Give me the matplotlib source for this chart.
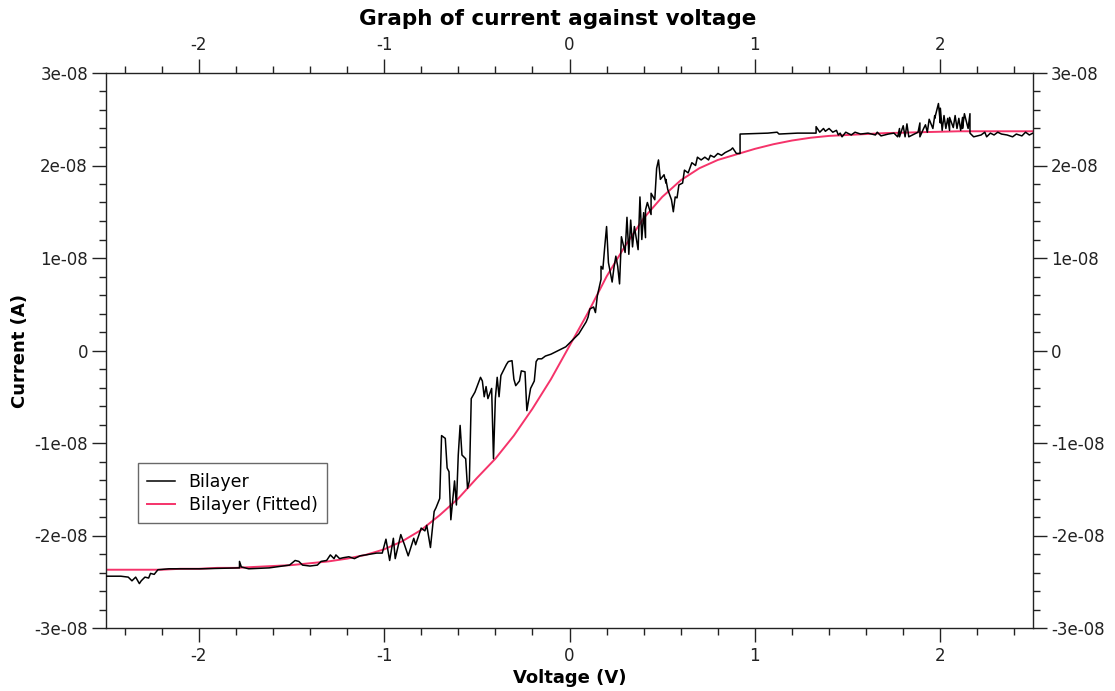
import matplotlib
matplotlib.use("Agg")
import matplotlib.pyplot as plt
from matplotlib.ticker import MultipleLocator, FuncFormatter

# ---- data ----
# Measured trace "Bilayer": voltage (V), current (units of 1e-8 A)
bilayer_v = [-2.50, -2.42, -2.38, -2.36, -2.34, -2.32, -2.31, -2.29, -2.27, -2.26, -2.24, -2.22,
             -2.16, -1.99, -1.78, -1.78, -1.77, -1.73, -1.62, -1.51, -1.48, -1.46, -1.44, -1.40,
             -1.36, -1.34, -1.31, -1.29, -1.27, -1.26, -1.24, -1.22, -1.19, -1.16, -1.13, -1.10,
             -1.07, -1.04, -1.01, -0.99, -0.97, -0.95, -0.94, -0.91, -0.89, -0.87, -0.84, -0.83,
             -0.80, -0.78, -0.77, -0.75, -0.73, -0.72, -0.70, -0.69, -0.67, -0.66, -0.65, -0.64,
             -0.62, -0.61, -0.60, -0.59, -0.58, -0.56, -0.55, -0.54, -0.53, -0.51, -0.48, -0.47,
             -0.46, -0.45, -0.44, -0.42, -0.41, -0.40, -0.39, -0.38, -0.37, -0.34, -0.33, -0.31,
             -0.30, -0.29, -0.27, -0.26, -0.24, -0.23, -0.21, -0.19, -0.18, -0.17, -0.15, -0.13,
             -0.10, -0.07, -0.04, -0.02, 0.01, 0.05, 0.09, 0.10, 0.11, 0.13, 0.14, 0.15,
             0.17, 0.17, 0.18, 0.19, 0.20, 0.21, 0.23, 0.24, 0.25, 0.26, 0.27, 0.28,
             0.30, 0.31, 0.32, 0.33, 0.34, 0.35, 0.37, 0.38, 0.39, 0.40, 0.41, 0.41,
             0.42, 0.44, 0.44, 0.46, 0.47, 0.48, 0.49, 0.51, 0.52, 0.52, 0.53, 0.55,
             0.56, 0.57, 0.58, 0.59, 0.61, 0.62, 0.64, 0.66, 0.68, 0.69, 0.71, 0.73,
             0.75, 0.76, 0.78, 0.80, 0.82, 0.84, 0.87, 0.88, 0.90, 0.92, 0.92, 1.07,
             1.12, 1.13, 1.23, 1.33, 1.33, 1.35, 1.37, 1.38, 1.40, 1.42, 1.44, 1.45,
             1.46, 1.47, 1.49, 1.52, 1.54, 1.57, 1.61, 1.65, 1.66, 1.68, 1.72, 1.75,
             1.77, 1.78, 1.78, 1.80, 1.81, 1.82, 1.83, 1.85, 1.88, 1.89, 1.89, 1.91,
             1.92, 1.93, 1.94, 1.96, 1.97, 1.97, 1.99, 2.00, 2.00, 2.01, 2.02, 2.03,
             2.04, 2.05, 2.05, 2.07, 2.08, 2.09, 2.10, 2.11, 2.12, 2.12, 2.13, 2.15,
             2.16, 2.16, 2.18, 2.22, 2.24, 2.25, 2.27, 2.29, 2.31, 2.33, 2.36, 2.39,
             2.41, 2.44, 2.46, 2.48, 2.50]
bilayer_i = [-2.44, -2.44, -2.45, -2.49, -2.45, -2.52, -2.49, -2.45, -2.46, -2.41, -2.42, -2.37,
             -2.36, -2.36, -2.35, -2.28, -2.34, -2.36, -2.35, -2.32, -2.27, -2.28, -2.32, -2.33,
             -2.32, -2.28, -2.27, -2.21, -2.25, -2.21, -2.25, -2.24, -2.23, -2.25, -2.22, -2.21,
             -2.20, -2.19, -2.19, -2.04, -2.27, -2.03, -2.25, -1.99, -2.10, -2.22, -2.03, -2.10,
             -1.92, -1.95, -1.89, -2.13, -1.74, -1.70, -1.60, -0.92, -0.95, -1.27, -1.31, -1.83,
             -1.41, -1.67, -1.13, -0.81, -1.13, -1.17, -1.49, -1.41, -0.52, -0.45, -0.29, -0.33,
             -0.50, -0.39, -0.52, -0.41, -1.17, -0.52, -0.29, -0.50, -0.27, -0.15, -0.12, -0.11,
             -0.31, -0.38, -0.33, -0.22, -0.23, -0.65, -0.41, -0.33, -0.12, -0.09, -0.09, -0.06,
             -0.04, -0.01, 0.02, 0.04, 0.10, 0.18, 0.31, 0.36, 0.45, 0.47, 0.41, 0.59,
             0.77, 0.91, 0.88, 1.12, 1.34, 0.95, 0.74, 0.90, 1.02, 0.91, 0.72, 1.23,
             1.06, 1.44, 1.04, 1.41, 1.12, 1.34, 1.09, 1.66, 1.20, 1.49, 1.22, 1.52,
             1.60, 1.47, 1.70, 1.63, 1.97, 2.06, 1.85, 1.90, 1.81, 1.85, 1.74, 1.63,
             1.50, 1.66, 1.65, 1.79, 1.81, 1.95, 1.92, 2.03, 2.00, 2.09, 2.06, 2.09,
             2.06, 2.11, 2.09, 2.13, 2.11, 2.14, 2.17, 2.19, 2.13, 2.13, 2.34, 2.35,
             2.36, 2.34, 2.35, 2.35, 2.42, 2.36, 2.40, 2.37, 2.40, 2.36, 2.38, 2.33,
             2.35, 2.31, 2.36, 2.33, 2.36, 2.34, 2.35, 2.33, 2.36, 2.32, 2.34, 2.35,
             2.31, 2.40, 2.31, 2.43, 2.31, 2.45, 2.31, 2.33, 2.36, 2.46, 2.31, 2.40,
             2.44, 2.36, 2.50, 2.40, 2.54, 2.51, 2.67, 2.46, 2.62, 2.38, 2.54, 2.40,
             2.51, 2.38, 2.52, 2.41, 2.54, 2.40, 2.51, 2.38, 2.52, 2.40, 2.56, 2.40,
             2.56, 2.35, 2.31, 2.33, 2.36, 2.31, 2.35, 2.33, 2.36, 2.34, 2.33, 2.31,
             2.34, 2.32, 2.36, 2.33, 2.35]

# Fitted curve "Bilayer (Fitted)": voltage (V), current (units of 1e-8 A)
fitted_v = [-2.5, -2.4, -2.3, -2.2, -2.1, -2.0, -1.9, -1.8, -1.7, -1.6, -1.5, -1.4, -1.3,
            -1.2, -1.1, -1.0, -0.9, -0.8, -0.7, -0.6, -0.5, -0.4, -0.3, -0.2, -0.1, 0.0,
            0.1, 0.2, 0.3, 0.4, 0.5, 0.6, 0.7, 0.8, 0.9, 1.0, 1.1, 1.2, 1.3, 1.4, 1.5,
            1.6, 1.7, 1.8, 1.9, 2.0, 2.1, 2.2, 2.3, 2.4, 2.5]
fitted_i = [-2.37, -2.37, -2.37, -2.37, -2.36, -2.36, -2.35, -2.35, -2.34, -2.33, -2.32, -2.30,
            -2.28, -2.25, -2.21, -2.15, -2.06, -1.94, -1.78, -1.60, -1.38, -1.17, -0.92, -0.63,
            -0.31, 0.05, 0.41, 0.80, 1.13, 1.43, 1.66, 1.84, 1.97, 2.06, 2.12, 2.18,
            2.23, 2.27, 2.30, 2.32, 2.33, 2.34, 2.35, 2.355, 2.36, 2.365, 2.37, 2.37,
            2.37, 2.37, 2.37]

scale = 1e-8
series_labels = ["Bilayer", "Bilayer (Fitted)"]
x_ticks = [-2, -1, 0, 1, 2]
y_ticks = [-3e-8, -2e-8, -1e-8, 0, 1e-8, 2e-8, 3e-8]

plt.rcParams['font.family'] = ['DejaVu Sans']

fig = plt.figure(figsize=(11.15, 6.91), dpi=100)
ax = fig.add_axes([106/1115, 1 - 628/691, (1033 - 106)/1115, (628 - 73)/691])

ax.plot(bilayer_v, [v * scale for v in bilayer_i], color='black', lw=1.1,
        label=series_labels[0], zorder=3)
ax.plot(fitted_v, [v * scale for v in fitted_i], color='#f5336a', lw=1.4,
        label=series_labels[1], zorder=2)

ax.set_xlim(-2.5, 2.5)
ax.set_ylim(-3e-8, 3e-8)
ax.set_xticks(x_ticks)
ax.set_yticks(y_ticks)
ax.xaxis.set_minor_locator(MultipleLocator(0.2))
ax.yaxis.set_minor_locator(MultipleLocator(0.2e-8))
fmt = FuncFormatter(lambda v, p: '0' if abs(v) < 1e-15 else '{:g}'.format(v))
ax.yaxis.set_major_formatter(fmt)
ax.xaxis.set_major_formatter(FuncFormatter(lambda v, p: '{:g}'.format(v)))

ax.tick_params(which='both', direction='out', top=True, right=True,
               labeltop=True, labelright=True, labelsize=12, colors='#222222')
ax.tick_params(which='major', length=10, width=1, pad=3)
ax.tick_params(which='minor', length=5, width=1)
ax.tick_params(axis='x', which='major', top=True, pad=4)
for s in ax.spines.values():
    s.set_color('#222222')
    s.set_linewidth(1.0)

ax.set_xlabel('Voltage (V)', fontsize=13, fontweight='bold')
ax.set_ylabel('Current (A)', fontsize=13, fontweight='bold')
ax.xaxis.set_label_coords(0.5, -(678 - 628) / 555, transform=ax.transAxes)
ax.yaxis.set_label_coords(-(106 - 20) / 927, 0.5, transform=ax.transAxes)
ax.xaxis.label.set_va('center')
ax.yaxis.label.set_va('center')
fig.text(557.5 / 1115, 1 - 19 / 691, 'Graph of current against voltage', ha='center',
         va='center', fontsize=15.5, fontweight='bold')

leg = ax.legend(loc='upper left', bbox_to_anchor=(0.034, 0.297), fontsize=12.5,
                frameon=True, fancybox=False, handlelength=1.6, borderpad=0.55,
                labelspacing=0.3, borderaxespad=0, handletextpad=0.8)
leg.get_frame().set_edgecolor('#444444')
leg.get_frame().set_linewidth(1.0)

fig.savefig('out.png', dpi=100)
